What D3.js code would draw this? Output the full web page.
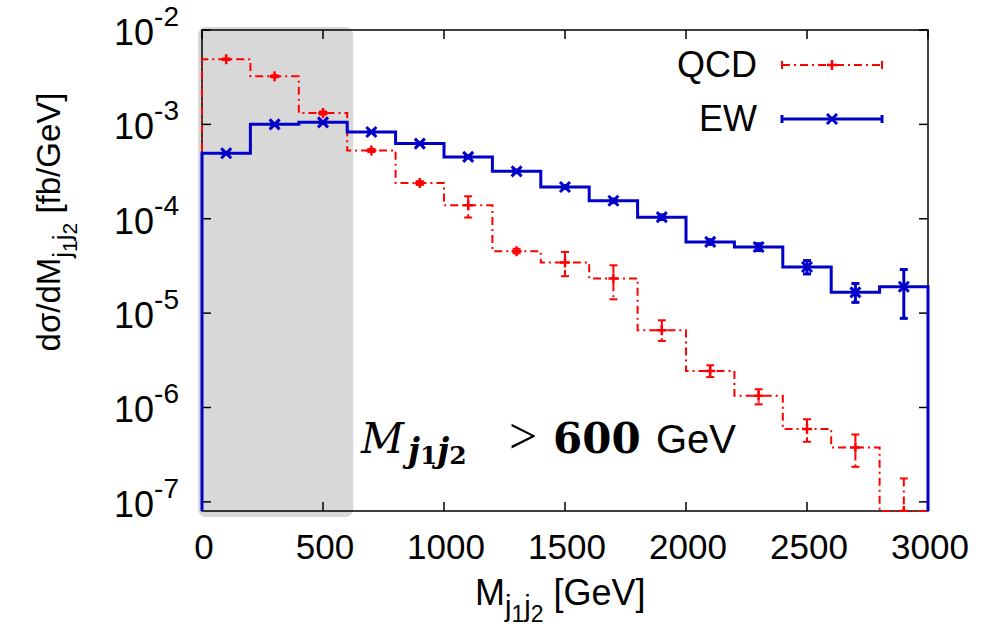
<!DOCTYPE html>
<html>
<head>
<meta charset="utf-8">
<script src="https://cdn.jsdelivr.net/npm/d3@7"></script>
<style>
  body { margin: 0; background: #fff; }
  text { font-family: "Liberation Sans", Arial, sans-serif; fill: #000; }
</style>
</head>
<body>
<div id="chart"></div>
<script>
// bin centres (GeV), bins are 200 GeV wide
var binCenters = [100, 300, 500, 700, 900, 1100, 1300, 1500, 1700, 1900, 2100, 2300, 2500, 2700, 2900];
var binWidth = 200;

// QCD values and error band [fb/GeV]
var qcdVal = [4.9e-3, 3.23e-3, 1.32e-3, 5.3e-4, 2.39e-4, 1.39e-4, 4.53e-5, 3.43e-5, 2.33e-5, 6.6e-6, 2.44e-6, 1.33e-6, 5.93e-7, 3.77e-7, 3e-8];
var qcdLo  = [4.8e-3, 3.15e-3, 1.27e-3, 5.1e-4, 2.28e-4, 1.03e-4, 4.3e-5, 2.46e-5, 1.40e-5, 5.07e-6, 2.1e-6, 1.08e-6, 4.33e-7, 2.35e-7, 1e-9];
var qcdHi  = [5.0e-3, 3.31e-3, 1.37e-3, 5.5e-4, 2.50e-4, 1.73e-4, 4.8e-5, 4.45e-5, 3.21e-5, 8.4e-6, 2.8e-6, 1.56e-6, 7.5e-7, 5.17e-7, 1.77e-7];

// EW values and error band [fb/GeV]
var ewVal = [4.94e-4, 1.0e-3, 1.05e-3, 8.3e-4, 6.26e-4, 4.52e-4, 3.18e-4, 2.17e-4, 1.55e-4, 1.04e-4, 5.68e-5, 5.02e-5, 3.08e-5, 1.66e-5, 1.9e-5];
var ewLo  = [4.85e-4, 0.98e-3, 1.03e-3, 8.15e-4, 6.12e-4, 4.40e-4, 3.08e-4, 2.09e-4, 1.48e-4, 0.98e-4, 5.35e-5, 4.6e-5, 2.6e-5, 1.30e-5, 8.8e-6];
var ewHi  = [5.03e-4, 1.02e-3, 1.07e-3, 8.45e-4, 6.40e-4, 4.64e-4, 3.28e-4, 2.25e-4, 1.62e-4, 1.10e-4, 6.0e-5, 5.45e-5, 3.6e-5, 2.06e-5, 2.9e-5];

var xTicks = [0, 500, 1000, 1500, 2000, 2500, 3000];
var yTickExp = [-2, -3, -4, -5, -6, -7];
var legendNames = ["QCD", "EW"];
var cutValue = 600;

var W = 995, H = 633;
var margin = {top: 30, right: 67, bottom: 122, left: 202};
var yMin = 8e-8, yMax = 1e-2;
var serif = "'DejaVu Serif', 'Liberation Serif', serif";

var svg = d3.select("#chart").append("svg")
    .attr("width", W)
    .attr("height", H);

var x = d3.scaleLinear().domain([0, 3000]).range([margin.left, W - margin.right]);
var y = d3.scaleLog().domain([yMin, yMax]).range([H - margin.bottom, margin.top]);

// grey shaded region below the cut
svg.append("rect")
    .attr("x", x(0) - 4)
    .attr("y", y(yMax) - 3)
    .attr("width", x(cutValue) - x(0) + 10)
    .attr("height", y(yMin) - y(yMax) + 9)
    .attr("rx", 8)
    .attr("fill", "#d8d8d8");

svg.append("clipPath").attr("id", "clip")
  .append("rect")
    .attr("x", x(0) - 2)
    .attr("y", y(yMax))
    .attr("width", x(3000) - x(0) + 4)
    .attr("height", y(yMin) - y(yMax) + 1);

// frame
var frame = svg.append("g");
frame.append("rect")
    .attr("x", x(0)).attr("y", y(yMax))
    .attr("width", x(3000) - x(0))
    .attr("height", y(yMin) - y(yMax))
    .attr("fill", "none")
    .attr("stroke", "#000")
    .attr("stroke-width", 1.5);

// x ticks (bottom and mirrored on top)
xTicks.forEach(function(t) {
  frame.append("line")
    .attr("x1", x(t)).attr("x2", x(t))
    .attr("y1", y(yMin)).attr("y2", y(yMin) - 9)
    .attr("stroke", "#000").attr("stroke-width", 1.5);
  frame.append("line")
    .attr("x1", x(t)).attr("x2", x(t))
    .attr("y1", y(yMax)).attr("y2", y(yMax) + 9)
    .attr("stroke", "#000").attr("stroke-width", 1.5);
  frame.append("text")
    .attr("x", x(t) + 2)
    .attr("y", y(yMin) + 48)
    .attr("text-anchor", "middle")
    .style("font-size", "35px")
    .text(t);
});

// y ticks (left and mirrored on right)
yTickExp.forEach(function(e) {
  var v = Math.pow(10, e);
  frame.append("line")
    .attr("x1", x(0)).attr("x2", x(0) + 9)
    .attr("y1", y(v)).attr("y2", y(v))
    .attr("stroke", "#000").attr("stroke-width", 1.5);
  frame.append("line")
    .attr("x1", x(3000)).attr("x2", x(3000) - 9)
    .attr("y1", y(v)).attr("y2", y(v))
    .attr("stroke", "#000").attr("stroke-width", 1.5);
  var lab = frame.append("text")
    .attr("x", 179)
    .attr("y", y(v) + 15)
    .attr("text-anchor", "end")
    .style("font-size", "36px");
  lab.append("tspan").text("10");
  lab.append("tspan").attr("dy", -19).style("font-size", "28px").text(e);
});

// histogram step outline from bin values
function stepPoints(vals) {
  var pts = [[x(0), y(yMin)]];
  vals.forEach(function(v, i) {
    var vv = Math.max(v, yMin);
    pts.push([x(binCenters[i] - binWidth / 2), y(vv)]);
    pts.push([x(binCenters[i] + binWidth / 2), y(vv)]);
  });
  pts.push([x(3000), y(yMin)]);
  return pts;
}
var line = d3.line();

var series = [
  {name: "QCD", val: qcdVal, lo: qcdLo, hi: qcdHi, color: "#ff0000", width: 2, dash: "8,4,2,4", marker: "plus"},
  {name: "EW", val: ewVal, lo: ewLo, hi: ewHi, color: "#0000c8", width: 3, dash: null, marker: "cross"}
];

function drawMarker(g, type, cx, cy, s) {
  var r = 5;
  if (type === "plus") {
    g.append("path")
      .attr("d", "M" + (cx - r) + "," + cy + "H" + (cx + r) + "M" + cx + "," + (cy - r) + "V" + (cy + r))
      .attr("stroke", s.color).attr("stroke-width", 2.5).attr("fill", "none");
  } else {
    g.append("path")
      .attr("d", "M" + (cx - r) + "," + (cy - r) + "L" + (cx + r) + "," + (cy + r) +
                 "M" + (cx - r) + "," + (cy + r) + "L" + (cx + r) + "," + (cy - r))
      .attr("stroke", s.color).attr("stroke-width", 3).attr("fill", "none");
  }
}

var plot = svg.append("g").attr("clip-path", "url(#clip)");

series.forEach(function(s) {
  var g = plot.append("g");
  g.append("path")
    .attr("d", line(stepPoints(s.val)))
    .attr("fill", "none")
    .attr("stroke", s.color)
    .attr("stroke-width", s.width)
    .attr("stroke-dasharray", s.dash);

  binCenters.forEach(function(c, i) {
    var cx = x(c);
    var y1 = y(Math.max(s.hi[i], yMin)), y2 = y(Math.max(s.lo[i], yMin));
    g.append("line")
      .attr("x1", cx).attr("x2", cx).attr("y1", y1).attr("y2", y2)
      .attr("stroke", s.color).attr("stroke-width", s.width)
      .attr("stroke-dasharray", s.dash);
    [y1, y2].forEach(function(yy) {
      g.append("line")
        .attr("x1", cx - 4).attr("x2", cx + 4).attr("y1", yy).attr("y2", yy)
        .attr("stroke", s.color).attr("stroke-width", s.width);
    });
    drawMarker(g, s.marker, cx, y(Math.max(s.val[i], yMin)), s);
  });
});

// legend
var legY = [65, 119];
series.forEach(function(s, i) {
  var g = svg.append("g");
  g.append("text")
    .attr("x", 757)
    .attr("y", legY[i] + 12)
    .attr("text-anchor", "end")
    .style("font-size", "36px")
    .text(legendNames[i]);
  g.append("line")
    .attr("x1", 782).attr("x2", 882).attr("y1", legY[i]).attr("y2", legY[i])
    .attr("stroke", s.color).attr("stroke-width", s.width)
    .attr("stroke-dasharray", s.dash);
  [782, 882].forEach(function(xx) {
    g.append("line")
      .attr("x1", xx).attr("x2", xx).attr("y1", legY[i] - 4).attr("y2", legY[i] + 4)
      .attr("stroke", s.color).attr("stroke-width", s.width);
  });
  drawMarker(g, s.marker, 832, legY[i], s);
});

// axis titles
var xl = svg.append("text")
    .attr("x", 475)
    .attr("y", 605)
    .style("font-size", "36px");
xl.append("tspan").text("M");
xl.append("tspan").attr("dy", 11).style("font-size", "29px").text("j");
xl.append("tspan").attr("dy", 6).style("font-size", "23px").text("1");
xl.append("tspan").attr("dy", -6).style("font-size", "29px").text("j");
xl.append("tspan").attr("dy", 6).style("font-size", "23px").text("2");
xl.append("tspan").attr("dy", -17).text(" [GeV]");

var yl = svg.append("text")
    .attr("transform", "translate(60,222) rotate(-90)")
    .attr("text-anchor", "middle")
    .style("font-size", "33px");
yl.append("tspan").text("dσ/dM");
yl.append("tspan").attr("dy", 11).style("font-size", "26px").text("j");
yl.append("tspan").attr("dy", 6).style("font-size", "21px").text("1");
yl.append("tspan").attr("dy", -6).style("font-size", "26px").text("j");
yl.append("tspan").attr("dy", 6).style("font-size", "21px").text("2");
yl.append("tspan").attr("dy", -17).text(" [fb/GeV]");

// cut annotation
var ann = svg.append("text").attr("x", 361).attr("y", 453);
ann.append("tspan")
    .style("font-family", serif)
    .style("font-style", "italic").style("font-size", "42px").text("M");
ann.append("tspan").attr("x", 408).attr("dy", 9)
    .style("font-family", serif)
    .style("font-style", "italic").style("font-weight", "bold").style("font-size", "33px").text("j");
ann.append("tspan").attr("dy", 2)
    .style("font-family", serif)
    .style("font-weight", "bold").style("font-size", "25px").text("1");
ann.append("tspan").attr("dy", -2)
    .style("font-family", serif)
    .style("font-style", "italic").style("font-weight", "bold").style("font-size", "33px").text("j");
ann.append("tspan").attr("dy", 2)
    .style("font-family", serif)
    .style("font-weight", "bold").style("font-size", "25px").text("2");
ann.append("tspan").attr("x", 509).attr("dy", -11)
    .style("font-family", "'Liberation Serif', serif")
    .style("font-size", "50px").text(">");
ann.append("tspan").attr("x", 553)
    .style("font-family", serif)
    .style("font-weight", "bold").style("font-size", "42px").text(cutValue);
ann.append("tspan").attr("x", 656)
    .style("font-size", "40px").text("GeV");
</script>
</body>
</html>
